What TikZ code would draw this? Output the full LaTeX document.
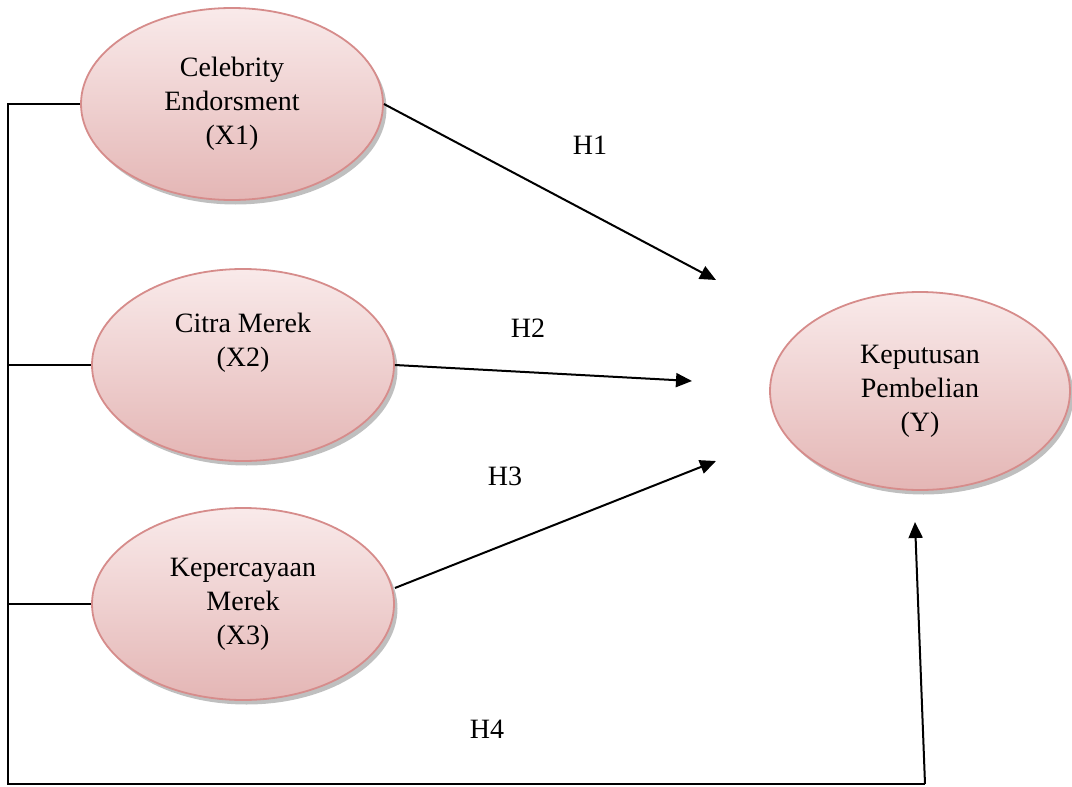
\documentclass[tikz,border=0pt]{standalone}
\usepackage{fontspec}
\setmainfont{Liberation Serif}
\usetikzlibrary{shapes.geometric,arrows.meta,shadows}
\definecolor{pinktop}{HTML}{F9EAEA}
\definecolor{pinkbot}{HTML}{E4B6B5}
\definecolor{pinkline}{HTML}{D68C8B}
\tikzset{
  var/.style={ellipse, draw=pinkline, line width=1.8pt, top color=pinktop, bottom color=pinkbot,
    minimum width=302pt, minimum height=192pt, inner sep=0pt, align=center,
    drop shadow={shadow xshift=3.5pt, shadow yshift=-4.5pt, fill=black!50}},
  path/.style={line width=2pt, -{Triangle[length=16pt,width=14pt]}},
  link/.style={line width=1.4pt},
  hyp/.style={inner sep=0pt}
}
\begin{document}
\begin{tikzpicture}[x=1pt,y=-1pt,font=\fontsize{28}{34}\selectfont]
\useasboundingbox (0,0) rectangle (1072,787);
% variables
\node[var] (X1) at (232,104) {Celebrity\\Endorsment\\(X1)};
\node[var] (X2) at (243,365) {Citra Merek\\(X2)\\[16pt]\mbox{}};
\node[var] (X3) at (243,604) {Kepercayaan\\Merek\\(X3)};
\node[var, minimum width=300pt, minimum height=198pt] (Y) at (920,391) {Keputusan\\Pembelian\\(Y)};

% arrow ends
\coordinate (e1) at (716,280);
\coordinate (e2) at (692,381);
\coordinate (e3) at (716,461);
\coordinate (e4) at (915,522);
\coordinate (b1) at (8,104);
\coordinate (b4) at (8,784);
\coordinate (b5) at (925,784);

\draw[path] (X1.east) -- (e1);
\draw[path] (X2.east) -- (e2);
\draw[path] (X3.east |- 0,588) -- (e3);

\draw[link] (X1.west) -- (b1) -- (b4) -- (b5);
\draw[link] (X2.west) -- (X2.west -| b1);
\draw[link] (X3.west) -- (X3.west -| b1);
\draw[path] (b5) -- (e4);

% labels
\node[hyp] (H1) at (590,145) {H1};
\node[hyp] (H2) at (528,328) {H2};
\node[hyp] (H3) at (505,476) {H3};
\node[hyp] (H4) at (487,729) {H4};
\end{tikzpicture}
\end{document}
